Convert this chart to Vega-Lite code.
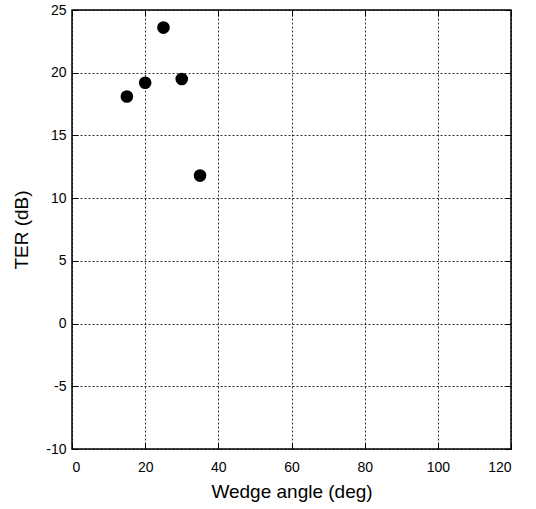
{
  "$schema": "https://vega.github.io/schema/vega-lite/v6.json",
  "width": 439,
  "height": 439,
  "autosize": "none",
  "padding": {"left": 72, "top": 10, "right": 25, "bottom": 60},
  "background": "white",
  "config": {
    "font": "Liberation Sans",
    "view": {"stroke": "black", "strokeWidth": 1.5},
    "axis": {
      "labelFont": "Liberation Sans",
      "titleFont": "Liberation Sans",
      "labelFontSize": 14,
      "titleFontSize": 19,
      "titleFontWeight": "normal",
      "labelColor": "black",
      "titleColor": "black",
      "domain": false,
      "tickColor": "black",
      "tickSize": -6,
      "tickWidth": 1,
      "grid": true,
      "gridColor": "black",
      "gridOpacity": 1,
      "gridWidth": 0.8,
      "gridDash": [2, 2],
      "labelExpr": "replace(datum.label, '−', '-')"
    }
  },
  "data": {
    "values": [
      {"angle": 15, "ter": 18.1},
      {"angle": 20, "ter": 19.2},
      {"angle": 25, "ter": 23.6},
      {"angle": 30, "ter": 19.5},
      {"angle": 35, "ter": 11.8}
    ]
  },
  "layer": [
    {
      "mark": {"type": "point", "filled": true, "color": "black", "opacity": 1, "size": 160},
      "encoding": {
        "x": {"field": "angle", "type": "quantitative", "scale": {"domain": [0, 120], "nice": false}, "axis": {"title": "Wedge angle (deg)", "values": [0, 20, 40, 60, 80, 100, 120], "labelPadding": 17, "titlePadding": 8}},
        "y": {"field": "ter", "type": "quantitative", "scale": {"domain": [-10, 25], "nice": false}, "axis": {"title": "TER (dB)", "values": [-10, -5, 0, 5, 10, 15, 20, 25], "labelPadding": 12, "titlePadding": 14}}
      }
    },
    {
      "mark": {"type": "point", "opacity": 0},
      "encoding": {
        "x": {"field": "angle", "type": "quantitative", "scale": {"domain": [0, 120], "nice": false}, "axis": {"orient": "top", "title": null, "labels": false, "grid": false, "values": [0, 20, 40, 60, 80, 100, 120]}},
        "y": {"field": "ter", "type": "quantitative", "scale": {"domain": [-10, 25], "nice": false}, "axis": {"orient": "right", "title": null, "labels": false, "grid": false, "values": [-10, -5, 0, 5, 10, 15, 20, 25]}}
      }
    }
  ],
  "resolve": {"axis": {"x": "independent", "y": "independent"}}
}
